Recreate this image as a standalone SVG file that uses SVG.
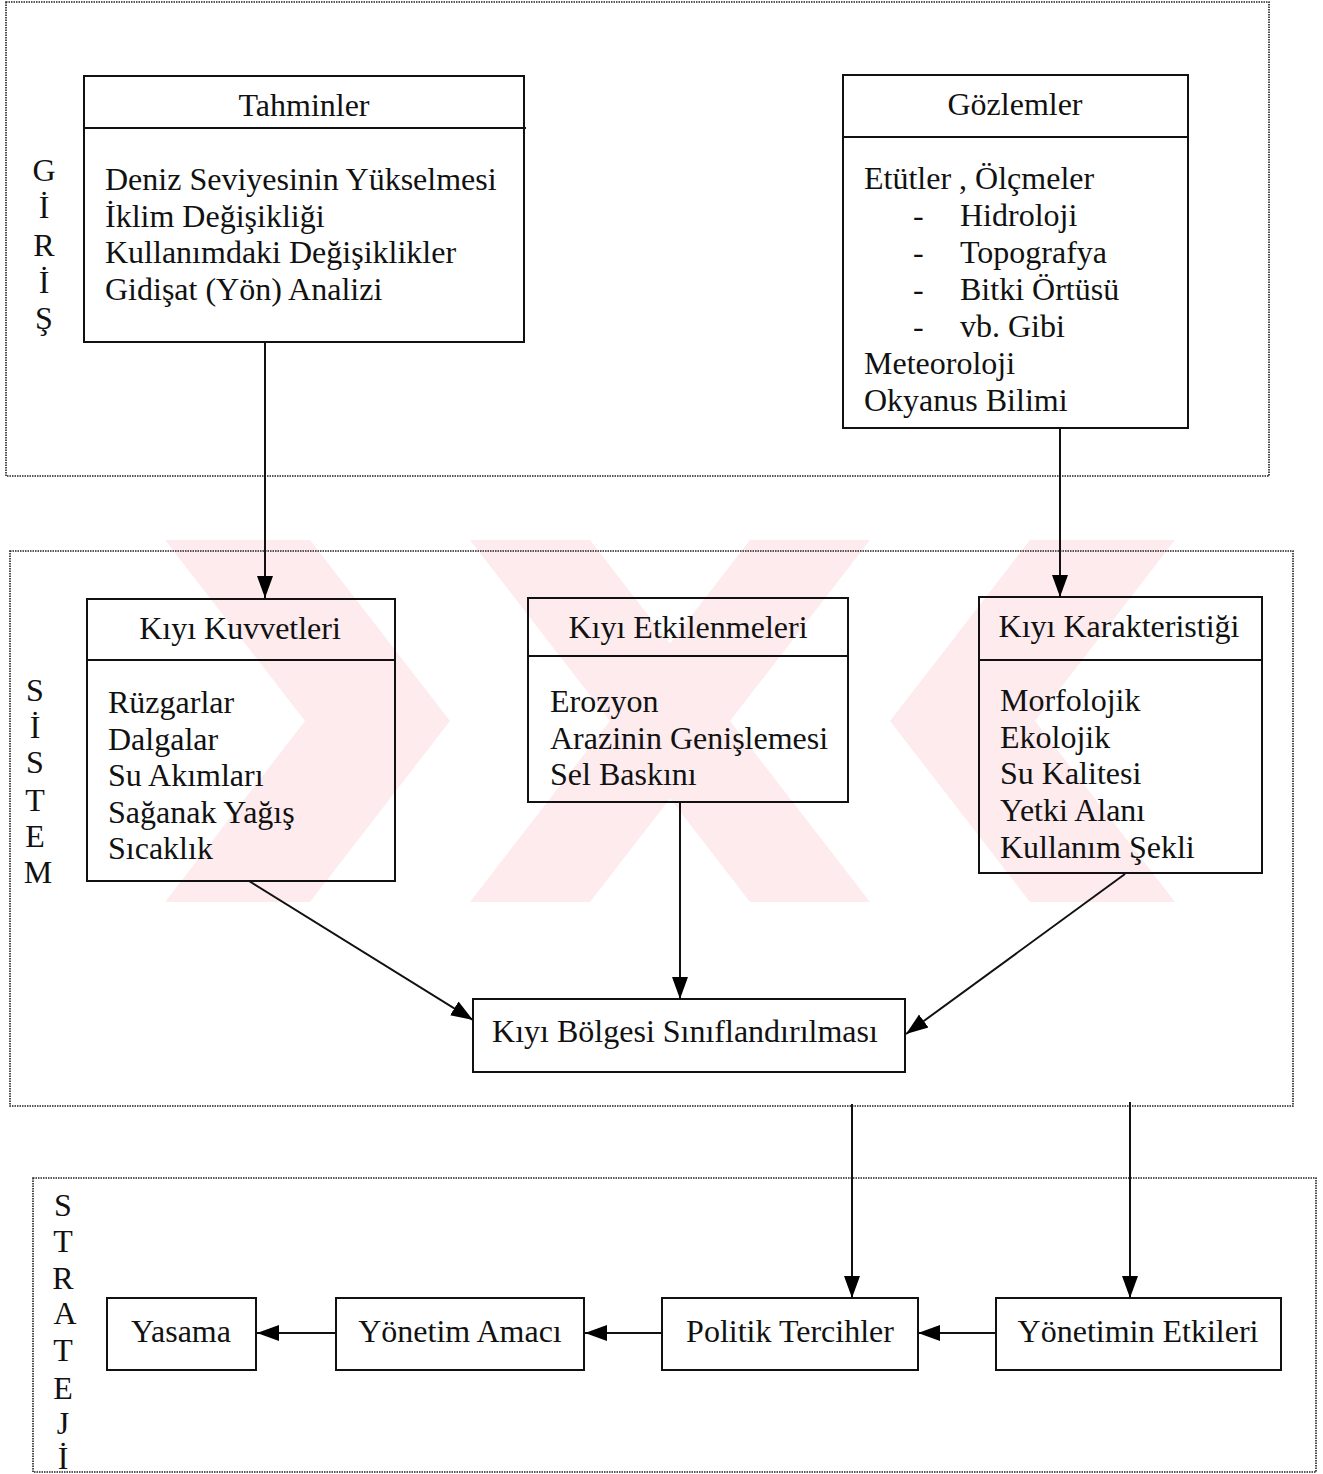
<svg xmlns="http://www.w3.org/2000/svg" width="1323" height="1474" viewBox="0 0 1323 1474">
<defs>
<marker id="arr" markerUnits="userSpaceOnUse" markerWidth="24" markerHeight="18" refX="22" refY="9" orient="auto">
<path d="M0,1 L22,9 L0,17 z" fill="#000"/>
</marker>
<style>
text{font-family:"Liberation Serif","Times New Roman",serif;font-size:32px;fill:#111}
.c{text-anchor:middle}
.box{fill:none;stroke:#111;stroke-width:2}
.zone{fill:none;stroke:#222;stroke-width:1.6;stroke-dasharray:1.5 1}
.con{fill:none;stroke:#111;stroke-width:2}
.wm{fill:#fdebee}
</style>
</defs>
<rect width="1323" height="1474" fill="#fff"/>
<g id="watermark">
<polygon class="wm" points="165,540 310,540 450,721 310,902 165,902 305,721"/>
<polygon class="wm" points="470,902 590,902 870,540 750,540"/>
<polygon class="wm" points="470,540 590,540 870,902 750,902"/>
<polygon class="wm" points="1175,540 1030,540 890,721 1030,902 1175,902 1035,721"/>
</g>
<g id="giris">
<rect class="zone" x="6" y="2" width="1263" height="474"/>
<text class="c" x="44" y="181">G</text>
<text class="c" x="44" y="218">İ</text>
<text class="c" x="44" y="256">R</text>
<text class="c" x="44" y="293">İ</text>
<text class="c" x="44" y="329">Ş</text>
</g>
<g id="sistem">
<rect class="zone" x="10" y="551" width="1283" height="555"/>
<text class="c" x="35" y="701">S</text>
<text class="c" x="35" y="738">İ</text>
<text class="c" x="35" y="773">S</text>
<text class="c" x="35" y="811">T</text>
<text class="c" x="35" y="847">E</text>
<text class="c" x="38" y="883">M</text>
</g>
<g id="strateji">
<rect class="zone" x="33" y="1178" width="1283" height="294"/>
<text class="c" x="63" y="1216">S</text>
<text class="c" x="63" y="1252">T</text>
<text class="c" x="63" y="1289">R</text>
<text class="c" x="65" y="1324">A</text>
<text class="c" x="63" y="1361">T</text>
<text class="c" x="63" y="1399">E</text>
<text class="c" x="63" y="1434">J</text>
<text class="c" x="63" y="1469">İ</text>
</g>
<g id="tahminler">
<rect class="box" x="84" y="76" width="440" height="266"/>
<line class="box" x1="84" y1="128" x2="526" y2="128"/>
<text class="c" x="304" y="116">Tahminler</text>
<text x="105" y="190">Deniz Seviyesinin Yükselmesi</text>
<text x="105" y="227">İklim Değişikliği</text>
<text x="105" y="263">Kullanımdaki Değişiklikler</text>
<text x="105" y="300">Gidişat (Yön) Analizi</text>
</g>
<g id="gozlemler">
<rect class="box" x="843" y="75" width="345" height="353"/>
<line class="box" x1="843" y1="137" x2="1188" y2="137"/>
<text class="c" x="1015" y="115">Gözlemler</text>
<text x="864" y="189">Etütler , Ölçmeler</text>
<text x="913" y="226">-</text><text x="960" y="226">Hidroloji</text>
<text x="913" y="263">-</text><text x="960" y="263">Topografya</text>
<text x="913" y="300">-</text><text x="960" y="300">Bitki Örtüsü</text>
<text x="913" y="337">-</text><text x="960" y="337">vb. Gibi</text>
<text x="864" y="374">Meteoroloji</text>
<text x="864" y="411">Okyanus Bilimi</text>
</g>
<g id="kiyi-kuvvetleri">
<rect class="box" x="87" y="599" width="308" height="282"/>
<line class="box" x1="87" y1="660" x2="395" y2="660"/>
<text class="c" x="240" y="639">Kıyı Kuvvetleri</text>
<text x="108" y="713">Rüzgarlar</text>
<text x="108" y="750">Dalgalar</text>
<text x="108" y="786">Su Akımları</text>
<text x="108" y="823">Sağanak Yağış</text>
<text x="108" y="859">Sıcaklık</text>
</g>
<g id="kiyi-etkilenmeleri">
<rect class="box" x="528" y="598" width="320" height="204"/>
<line class="box" x1="528" y1="656" x2="848" y2="656"/>
<text class="c" x="688" y="638">Kıyı Etkilenmeleri</text>
<text x="550" y="712">Erozyon</text>
<text x="550" y="749">Arazinin Genişlemesi</text>
<text x="550" y="785">Sel Baskını</text>
</g>
<g id="kiyi-karakteristigi">
<rect class="box" x="979" y="597" width="283" height="276"/>
<line class="box" x1="979" y1="660" x2="1262" y2="660"/>
<text class="c" x="1119" y="637">Kıyı Karakteristiği</text>
<text x="1000" y="711">Morfolojik</text>
<text x="1000" y="748">Ekolojik</text>
<text x="1000" y="784">Su Kalitesi</text>
<text x="1000" y="821">Yetki Alanı</text>
<text x="1000" y="858">Kullanım Şekli</text>
</g>
<g id="kiyi-bolgesi">
<rect class="box" x="473" y="999" width="432" height="73"/>
<text class="c" x="685" y="1042">Kıyı Bölgesi Sınıflandırılması</text>
</g>
<g id="yasama">
<rect class="box" x="107" y="1298" width="149" height="72"/>
<text class="c" x="181" y="1342">Yasama</text>
</g>
<g id="yonetim-amaci">
<rect class="box" x="336" y="1298" width="248" height="72"/>
<text class="c" x="460" y="1342">Yönetim Amacı</text>
</g>
<g id="politik-tercihler">
<rect class="box" x="662" y="1298" width="256" height="72"/>
<text class="c" x="790" y="1342">Politik Tercihler</text>
</g>
<g id="yonetimin-etkileri">
<rect class="box" x="996" y="1298" width="285" height="72"/>
<text class="c" x="1138" y="1342">Yönetimin Etkileri</text>
</g>
<g id="connectors">
<line class="con" x1="265" y1="342" x2="265" y2="598" marker-end="url(#arr)"/>
<line class="con" x1="1060" y1="428" x2="1060" y2="597" marker-end="url(#arr)"/>
<line class="con" x1="249" y1="881" x2="473" y2="1020" marker-end="url(#arr)"/>
<line class="con" x1="680" y1="802" x2="680" y2="999" marker-end="url(#arr)"/>
<line class="con" x1="1125" y1="874" x2="906" y2="1034" marker-end="url(#arr)"/>
<line class="con" x1="852" y1="1104" x2="852" y2="1298" marker-end="url(#arr)"/>
<line class="con" x1="1130" y1="1102" x2="1130" y2="1298" marker-end="url(#arr)"/>
<line class="con" x1="996" y1="1333" x2="918" y2="1333" marker-end="url(#arr)"/>
<line class="con" x1="662" y1="1333" x2="585" y2="1333" marker-end="url(#arr)"/>
<line class="con" x1="336" y1="1333" x2="257" y2="1333" marker-end="url(#arr)"/>
</g>
</svg>
